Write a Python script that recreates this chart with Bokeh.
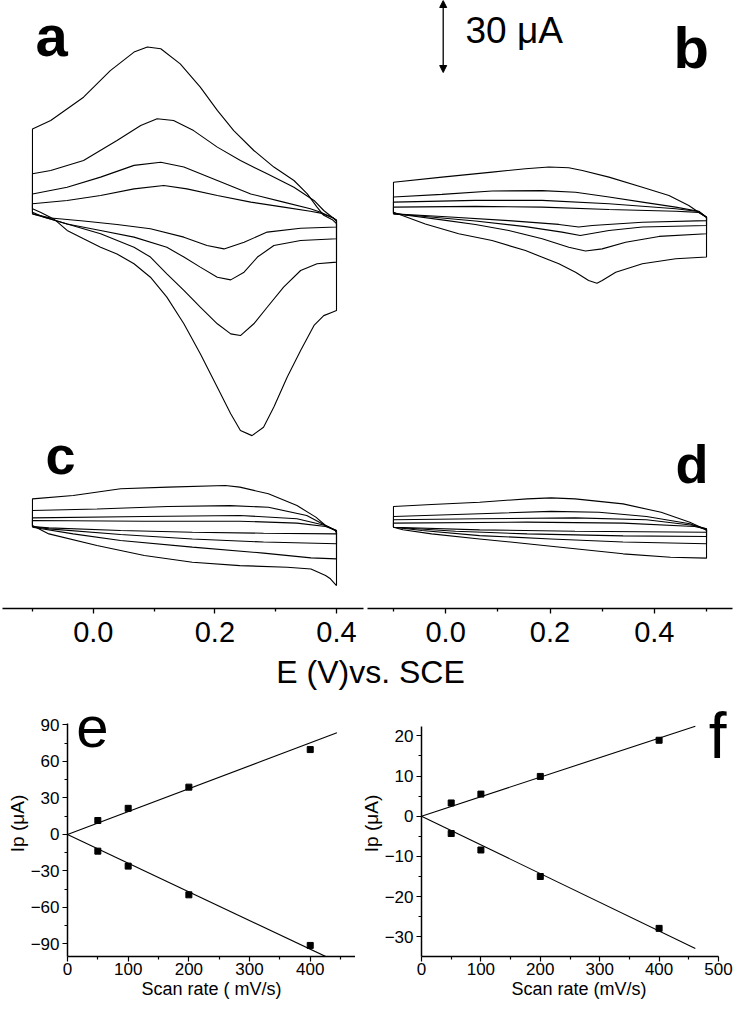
from bokeh.plotting import figure
from bokeh.layouts import column, row
from bokeh.models import Range1d, FixedTicker, Label, Arrow, NormalHead
from bokeh.embed import file_html
from bokeh.resources import INLINE

FONT = "Liberation Sans"

# ---------------- data ----------------
scan_rates = [50, 100, 200, 400]          # mV/s
scale_bar_uA = 30

# panel a (E / V, I / uA), one closed loop per scan rate
a_E_400 = [-0.1, -0.1, -0.07, -0.016, 0.028, 0.067, 0.089, 0.111, 0.143, 0.176, 0.204, 0.231, 0.264, 0.297, 0.330, 0.352, 0.368, 0.379, 0.394, 0.4, 0.4, 0.392, 0.379, 0.363, 0.341, 0.319, 0.297, 0.280, 0.261, 0.242, 0.226, 0.204, 0.176, 0.149, 0.121, 0.094, 0.067, 0.039, 0.012, -0.016, -0.043, -0.065, -0.087, -0.1]
a_I_400 = [3.2, 36.5, 40.0, 49.7, 60.8, 68.5, 70.6, 69.9, 63.6, 53.9, 44.2, 35.8, 27.5, 20.6, 15.0, 9.4, 3.9, 0.5, -1.5, -3.0, -39.2, -40.0, -41.3, -45.4, -55.8, -66.9, -79.4, -87.8, -91.3, -89.2, -82.2, -71.1, -57.2, -44.7, -33.6, -25.3, -19.7, -15.6, -12.8, -9.3, -5.8, -1.0, 1.8, 3.2]
a_E_200 = [-0.1, -0.1, -0.07, -0.016, 0.039, 0.078, 0.105, 0.132, 0.165, 0.204, 0.242, 0.286, 0.330, 0.363, 0.379, 0.394, 0.4, 0.4, 0.368, 0.341, 0.313, 0.286, 0.264, 0.242, 0.226, 0.204, 0.176, 0.149, 0.121, 0.094, 0.067, 0.012, -0.043, -0.081, -0.1]
a_I_200 = [1.8, 17.8, 19.2, 23.3, 31.7, 37.9, 40.7, 40.0, 35.8, 28.9, 23.3, 17.8, 12.2, 6.7, 2.5, -0.5, -2.0, -19.0, -19.7, -22.5, -29.4, -37.8, -44.7, -49.6, -48.9, -44.7, -37.8, -30.8, -23.9, -16.9, -12.8, -7.2, -3.1, -0.3, 1.8]
a_E_100 = [-0.1, -0.1, -0.043, 0.012, 0.067, 0.111, 0.149, 0.204, 0.259, 0.313, 0.357, 0.374, 0.394, 0.4, 0.4, 0.341, 0.297, 0.270, 0.248, 0.226, 0.204, 0.176, 0.149, 0.121, 0.067, 0.012, -0.043, -0.070, -0.1]
a_I_100 = [1.1, 9.4, 12.2, 16.4, 21.3, 22.6, 20.6, 15.0, 9.4, 6.0, 3.2, 1.8, -0.5, -1.5, -9.3, -10.0, -12.1, -16.9, -23.2, -26.4, -25.3, -21.1, -16.9, -12.8, -8.6, -5.8, -3.1, -1.0, 1.1]
a_E_50 = [-0.1, -0.1, -0.043, 0.012, 0.067, 0.116, 0.154, 0.204, 0.259, 0.313, 0.357, 0.374, 0.394, 0.4, 0.4, 0.341, 0.286, 0.248, 0.215, 0.187, 0.149, 0.094, 0.039, -0.016, -0.070, -0.1]
a_I_50 = [1.1, 5.3, 6.7, 8.75, 11.5, 12.9, 11.5, 8.75, 6.0, 3.9, 2.2, 1.4, -0.5, -1.5, -4.4, -4.9, -6.5, -10.7, -13.5, -12.1, -8.6, -5.1, -3.3, -1.9, -0.6, 1.1]

# panel b
b_E_400 = [-0.1, -0.1, -0.007, 0.089, 0.153, 0.198, 0.236, 0.262, 0.313, 0.377, 0.428, 0.466, 0.485, 0.5, 0.5, 0.441, 0.377, 0.326, 0.300, 0.290, 0.274, 0.249, 0.217, 0.153, 0.089, 0.025, -0.039, -0.083, -0.1]
b_I_400 = [1.8, 14.3, 16.4, 18.5, 19.9, 20.6, 20.3, 19.2, 16.4, 12.2, 8.75, 4.6, 1.8, -0.3, -16.9, -17.6, -19.7, -23.2, -26.7, -27.8, -26.7, -23.2, -19.7, -14.2, -10.0, -7.2, -3.1, 0.4, 1.8]
b_E_200 = [-0.1, -0.1, -0.007, 0.089, 0.185, 0.249, 0.313, 0.377, 0.441, 0.485, 0.5, 0.5, 0.409, 0.345, 0.300, 0.268, 0.236, 0.185, 0.121, 0.057, -0.007, -0.071, -0.1]
b_I_200 = [1.4, 8.1, 9.2, 10.6, 10.8, 10.1, 8.1, 6.0, 3.9, 2.2, -0.3, -7.2, -8.3, -10.7, -13.5, -14.4, -12.8, -9.3, -5.8, -3.3, -1.4, 0.4, 1.4]
b_E_100 = [-0.1, -0.1, 0.057, 0.185, 0.313, 0.441, 0.485, 0.5, 0.5, 0.377, 0.313, 0.258, 0.223, 0.153, 0.057, -0.039, -0.1]
b_I_100 = [1.1, 6.0, 6.7, 6.7, 5.3, 3.2, 2.1, -0.3, -3.75, -4.4, -5.8, -7.9, -6.5, -4.2, -1.9, 0.0, 1.1]
b_E_50 = [-0.1, -0.1, 0.057, 0.185, 0.313, 0.441, 0.485, 0.5, 0.5, 0.377, 0.281, 0.255, 0.217, 0.121, -0.007, -0.1]
b_I_50 = [1.1, 3.9, 4.2, 3.9, 2.9, 2.2, 1.7, -0.3, -1.7, -2.4, -3.75, -4.4, -3.3, -1.7, 0.0, 1.1]

# panel c
c_E_400 = [-0.1, -0.1, -0.033, 0.045, 0.123, 0.217, 0.241, 0.288, 0.335, 0.366, 0.382, 0.398, 0.4, 0.4, 0.390, 0.382, 0.358, 0.319, 0.241, 0.163, 0.084, 0.006, -0.073, -0.1]
c_I_400 = [0.0, 11.1, 12.5, 15.3, 16.0, 16.7, 16.0, 13.2, 8.3, 3.5, 0.0, -2.1, -3.0, -25.0, -22.2, -20.8, -18.1, -17.4, -16.7, -15.3, -12.5, -8.3, -3.5, 0.0]
c_E_200 = [-0.1, -0.1, 0.006, 0.123, 0.225, 0.288, 0.351, 0.382, 0.398, 0.4, 0.4, 0.358, 0.280, 0.163, 0.045, -0.033, -0.1]
c_I_200 = [-0.7, 6.25, 6.9, 7.9, 8.3, 7.6, 4.2, 0.0, -2.1, -3.0, -13.9, -13.5, -11.5, -9.0, -6.25, -3.5, -0.7]
c_E_100 = [-0.1, -0.1, 0.084, 0.241, 0.335, 0.382, 0.4, 0.4, 0.280, 0.163, 0.045, -0.073, -0.1]
c_I_100 = [-0.4, 3.2, 3.75, 4.2, 2.8, 0.0, -2.1, -7.6, -6.9, -5.6, -3.75, -1.4, -0.4]
c_E_50 = [-0.1, -0.1, 0.084, 0.241, 0.335, 0.382, 0.4, 0.4, 0.280, 0.163, 0.045, -0.073, -0.1]
c_I_50 = [-0.4, 2.1, 1.8, 1.8, 1.0, -0.4, -2.1, -3.5, -3.2, -2.8, -2.1, -1.0, -0.4]

# panel d
d_E_400 = [-0.1, -0.1, -0.027, 0.065, 0.156, 0.202, 0.248, 0.340, 0.413, 0.468, 0.495, 0.5, 0.5, 0.431, 0.340, 0.248, 0.156, 0.065, -0.027, -0.082, -0.1]
d_I_400 = [-0.7, 7.9, 8.75, 9.7, 11.1, 11.5, 11.1, 9.0, 5.5, 1.4, -1.4, -2.0, -13.6, -13.2, -11.8, -9.7, -7.6, -5.6, -3.5, -1.8, -0.7]
d_E_200 = [-0.1, -0.1, 0.065, 0.202, 0.294, 0.385, 0.468, 0.495, 0.5, 0.5, 0.340, 0.202, 0.065, -0.045, -0.1]
d_I_200 = [-0.7, 3.75, 4.9, 5.9, 5.5, 3.75, 0.7, -1.4, -2.0, -7.6, -6.9, -5.6, -4.2, -2.1, -0.7]
d_E_100 = [-0.1, -0.1, 0.065, 0.248, 0.385, 0.477, 0.5, 0.5, 0.340, 0.156, 0.019, -0.1]
d_I_100 = [-0.7, 2.4, 2.8, 3.2, 2.4, 0.0, -1.4, -4.6, -4.3, -3.5, -2.4, -0.7]
d_E_50 = [-0.1, -0.1, 0.156, 0.340, 0.477, 0.5, 0.5, 0.248, 0.065, -0.1]
d_I_50 = [-0.7, 1.0, 1.4, 1.0, -0.4, -1.4, -2.8, -2.4, -1.8, -0.7]

# panel e (peak currents, uA)
e_ipa = [11.5, 21.5, 38.9, 69.8]
e_ipc = [-13.7, -26.0, -49.6, -91.2]
e_fit_up_x = [0, 444]
e_fit_up_y = [0, 83.6]
e_fit_dn_x = [0, 427.5]
e_fit_dn_y = [0, -100.8]

# panel f
f_ipa = [3.3, 5.5, 9.9, 18.9]
f_ipc = [-4.3, -8.4, -15.0, -27.9]
f_fit_up_x = [0, 461]
f_fit_up_y = [0, 22.4]
f_fit_dn_x = [0, 461]
f_fit_dn_y = [0, -32.9]

cv_xticks_left = [0.0, 0.2, 0.4]
cv_xminor_left = [-0.1, 0.1, 0.3]
cv_xticks_right = [0.0, 0.2, 0.4]
cv_xminor_right = [-0.1, 0.1, 0.3, 0.5]
cv_tick_text = {0.0: "0.0", 0.2: "0.2", 0.4: "0.4"}

# ---------------- helpers ----------------
LEFT_X = (-0.1493, 0.4444)
RIGHT_X = (-0.1498, 0.5498)
UPPER_Y = (-163.33, 90.0)      # panels a / b
LOWER_Y = (-34.58, 218.75)     # panels c / d (same uA scale, own zero)


def cv_fig(w, xr, mbl, mbr, ticks, minor):
    p = figure(width=w, height=652, x_range=Range1d(*xr), y_range=Range1d(*UPPER_Y),
               output_backend="svg", toolbar_location=None, y_axis_type=None,
               min_border_left=mbl, min_border_right=mbr, min_border_top=0,
               min_border_bottom=44)
    p.extra_y_ranges = {"low": Range1d(*LOWER_Y)}
    p.outline_line_color = None
    p.grid.visible = False
    ax = p.xaxis[0]
    ax.ticker = FixedTicker(ticks=ticks, minor_ticks=minor)
    ax.major_label_overrides = cv_tick_text
    ax.axis_line_width = 1.5
    ax.axis_line_color = "black"
    ax.major_tick_in = 0
    ax.major_tick_out = 5
    ax.minor_tick_in = 0
    ax.minor_tick_out = 3
    ax.major_tick_line_width = 1.3
    ax.minor_tick_line_width = 1.3
    ax.major_label_text_font = FONT
    ax.major_label_text_font_size = "29px"
    ax.major_label_text_color = "black"
    ax.major_label_standoff = 8
    return p


def loops(p, pairs, yname="default"):
    for ex, iy in pairs:
        p.line(ex, iy, line_color="black", line_width=1.1, y_range_name=yname)


def letter(p, x, y, t, size, bold=True, yname="default"):
    p.add_layout(Label(x=x, y=y, text=t, text_font=FONT, text_font_size=size,
                       text_font_style="bold" if bold else "normal", y_range_name=yname,
                       text_color="black", text_align="left", text_baseline="alphabetic"))


# ---------------- left column: a (top) and c (bottom) ----------------
fac = cv_fig(365, LEFT_X, 2, 2, cv_xticks_left, cv_xminor_left)
loops(fac, [(a_E_400, a_I_400), (a_E_200, a_I_200), (a_E_100, a_I_100), (a_E_50, a_I_50)])
loops(fac, [(c_E_400, c_I_400), (c_E_200, c_I_200), (c_E_100, c_I_100), (c_E_50, c_I_50)], "low")
letter(fac, -0.095, 75.6, "a", "58px")
letter(fac, -0.0786, 29.5, "c", "54px", yname="low")

# ---------------- right column: b (top) and d (bottom) ----------------
fbd = cv_fig(371, RIGHT_X, 2, 4, cv_xticks_right, cv_xminor_right)
loops(fbd, [(b_E_400, b_I_400), (b_E_200, b_I_200), (b_E_100, b_I_100), (b_E_50, b_I_50)])
loops(fbd, [(d_E_400, d_I_400), (d_E_200, d_I_200), (d_E_100, d_I_100), (d_E_50, d_I_50)], "low")
letter(fbd, 0.4367, 70.6, "b", "58px")
letter(fbd, 0.4405, 25.5, "d", "54px", yname="low")
bar_x = -0.0047
fbd.add_layout(Arrow(start=NormalHead(size=7, fill_color="black", line_color="black"),
                     end=NormalHead(size=7, fill_color="black", line_color="black"),
                     x_start=bar_x, y_start=90 - scale_bar_uA, x_end=bar_x, y_end=90,
                     line_color="black", line_width=1.3))
fbd.add_layout(Label(x=0.038, y=77.5, text=f"{scale_bar_uA} μA", text_font=FONT,
                     text_font_size="37px", text_color="black", text_baseline="alphabetic"))

# ---------------- title row ----------------
ft = figure(width=736, height=38, x_range=Range1d(0, 736), y_range=Range1d(0, 38),
            output_backend="svg", toolbar_location=None, x_axis_type=None, y_axis_type=None,
            min_border=0)
ft.outline_line_color = None
ft.grid.visible = False
ft.add_layout(Label(x=370, y=18.2, text="E (V)vs. SCE", text_font=FONT, text_font_size="32px",
                    text_color="black", text_align="center", text_baseline="alphabetic"))


# ---------------- bottom row: e, f ----------------
def rate_fig(w, xr, yr, xb, yb, mbl, mbr, mbb, xt, xm, yt, ym, xlabel):
    p = figure(width=w, height=316, x_range=Range1d(*xr), y_range=Range1d(*yr),
               output_backend="svg", toolbar_location=None,
               min_border_left=mbl, min_border_right=mbr, min_border_top=0,
               min_border_bottom=mbb)
    p.outline_line_color = None
    p.grid.visible = False
    p.xaxis.ticker = FixedTicker(ticks=xt, minor_ticks=xm)
    p.yaxis.ticker = FixedTicker(ticks=yt, minor_ticks=ym)
    p.xaxis.bounds = xb
    p.yaxis.bounds = yb
    for ax in (p.xaxis[0], p.yaxis[0]):
        ax.axis_line_width = 1.5
        ax.axis_line_color = "black"
        ax.major_tick_in = 0
        ax.major_tick_out = 5
        ax.minor_tick_in = 0
        ax.minor_tick_out = 3
        ax.major_tick_line_width = 1.2
        ax.minor_tick_line_width = 1.2
        ax.major_label_text_font = FONT
        ax.major_label_text_font_size = "17px"
        ax.major_label_text_color = "black"
        ax.axis_label_text_font = FONT
        ax.axis_label_text_font_style = "normal"
        ax.axis_label_text_color = "black"
    p.xaxis.major_label_standoff = 1
    p.yaxis.major_label_standoff = 3
    p.xaxis.axis_label = xlabel
    p.xaxis.axis_label_text_font_size = "18px"
    p.xaxis.axis_label_standoff = 1
    p.yaxis.axis_label = "Ip (μA)"
    p.yaxis.axis_label_text_font_size = "19px"
    p.yaxis.axis_label_standoff = 0
    return p


fe = rate_fig(355, (0, 474.6), (-100.3, 118.35), (0, 474.6), (-100.3, 91.2), 67, 0, 50,
              [0, 100, 200, 300, 400], [50, 150, 250, 350, 450],
              [-90, -60, -30, 0, 30, 60, 90], [-75, -45, -15, 15, 45, 75],
              "Scan rate ( mV/s)")
fe.line(e_fit_up_x, e_fit_up_y, line_color="black", line_width=1.1)
fe.line(e_fit_dn_x, e_fit_dn_y, line_color="black", line_width=1.1)
fe.scatter(scan_rates, e_ipa, marker="square", size=6, color="black")
fe.scatter(scan_rates, e_ipc, marker="square", size=6, color="black")
letter(fe, 14.4, 88.2, "e", "58px", bold=False)

ff = rate_fig(381, (0, 530.3), (-34.9, 31.28), (0, 500), (-34.9, 22.4), 66, 0, 48,
              [0, 100, 200, 300, 400, 500], [50, 150, 250, 350, 450],
              [-30, -20, -10, 0, 10, 20], [-25, -15, -5, 5, 15],
              "Scan rate (mV/s)")
ff.line(f_fit_up_x, f_fit_up_y, line_color="black", line_width=1.1)
ff.line(f_fit_dn_x, f_fit_dn_y, line_color="black", line_width=1.1)
ff.scatter(scan_rates, f_ipa, marker="square", size=6, color="black")
ff.scatter(scan_rates, f_ipc, marker="square", size=6, color="black")
letter(ff, 483.7, 20.0, "f", "64px", bold=False)

layout = column(row(fac, fbd, spacing=0), ft, row(fe, ff, spacing=0), spacing=0)

open("out.html", "w").write(file_html(layout, INLINE))
